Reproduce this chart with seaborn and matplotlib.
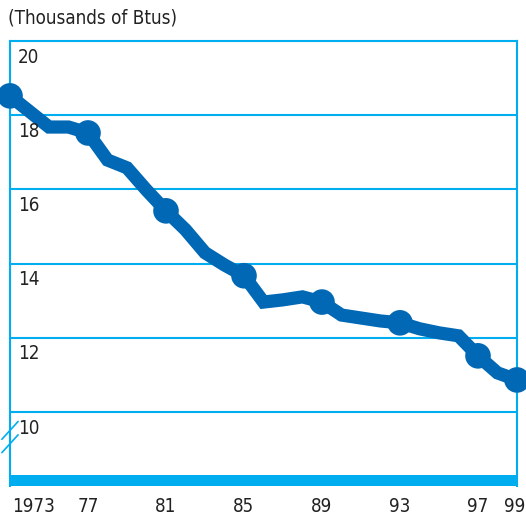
import matplotlib
matplotlib.use('Agg')
import matplotlib.pyplot as plt
import matplotlib.transforms as mtransforms
import seaborn as sns
import pandas as pd

# energy use per dollar of GDP
years = list(range(1973, 2000))
btus = [18.52, 18.10, 17.68, 17.68, 17.52, 16.79, 16.58, 15.98, 15.42, 14.91,
        14.29, 13.96, 13.67, 12.96, 13.02, 13.10, 12.96, 12.61, 12.53, 12.45,
        12.40, 12.24, 12.13, 12.05, 11.51, 11.05, 10.86]
marker_years = [1973, 1977, 1981, 1985, 1989, 1993, 1997, 1999]
xtick_labels = ['1973', '77', '81', '85', '89', '93', '97', '99']
ytick_values = [10, 12, 14, 16, 18, 20]

df = pd.DataFrame({'year': years, 'btus': btus})
marks = df[df['year'].isin(marker_years)]

sns.set_style('white')
plt.rcParams['font.family'] = ['DejaVu Sans']
plt.rcParams['font.stretch'] = 'condensed'

line_blue = '#0068b4'
cyan = '#00aeef'
txt = '#222222'

fig = plt.figure(figsize=(5.26, 5.15), dpi=100)
ax = fig.add_axes([10/526, 29/515, 507/526, 445/515])

ax.set_xlim(1973, 1999)
ax.set_ylim(8, 20)

# grid lines
for v in ytick_values[:-1]:
    ax.axhline(v, color=cyan, lw=1.5, zorder=1)
ax.axhspan(8, 8.3, color=cyan, lw=0, zorder=1)

sns.lineplot(data=df, x='year', y='btus', ax=ax, color=line_blue, lw=9.5,
             zorder=3, solid_joinstyle='miter')
sns.scatterplot(data=marks, x='year', y='btus', ax=ax, color=line_blue,
                s=340, edgecolor='none', zorder=4, clip_on=False)
for c in ax.collections:
    c.set_clip_on(False)

for s in ['left', 'right', 'top']:
    ax.spines[s].set_color(cyan)
    ax.spines[s].set_linewidth(1.5)
ax.spines['bottom'].set_visible(False)

ax.set_xticks([])
ax.set_yticks([])
ax.set_xlabel('')
ax.set_ylabel('')

# y labels sit inside the plot, just under each line
for v in ytick_values:
    ax.text(0.016, v - 0.18, str(v), transform=ax.get_yaxis_transform(),
            ha='left', va='top', fontsize=13.5, color=txt)

# x labels
trans = mtransforms.blended_transform_factory(ax.transData, ax.transAxes)
for yr, lab in zip(marker_years, xtick_labels):
    if yr == 1973:
        ha, xx = 'left', yr + 0.1
    elif yr == 1999:
        ha, xx = 'right', yr + 0.42
    else:
        ha, xx = 'center', yr
    ax.text(xx, -0.045, lab, transform=trans, ha=ha, va='center',
            fontsize=13.5, color=txt, clip_on=False)

# axis break marks
for dy in [0, -0.03]:
    ax.plot([-0.016, 0.016], [0.105 + dy, 0.145 + dy], transform=ax.transAxes,
            color=cyan, lw=1.2, clip_on=False)

fig.text(8/526, 1 - 18/515, '(Thousands of Btus)', ha='left', va='center',
         fontsize=13.5, color=txt)

fig.savefig('out.png', dpi=100)
